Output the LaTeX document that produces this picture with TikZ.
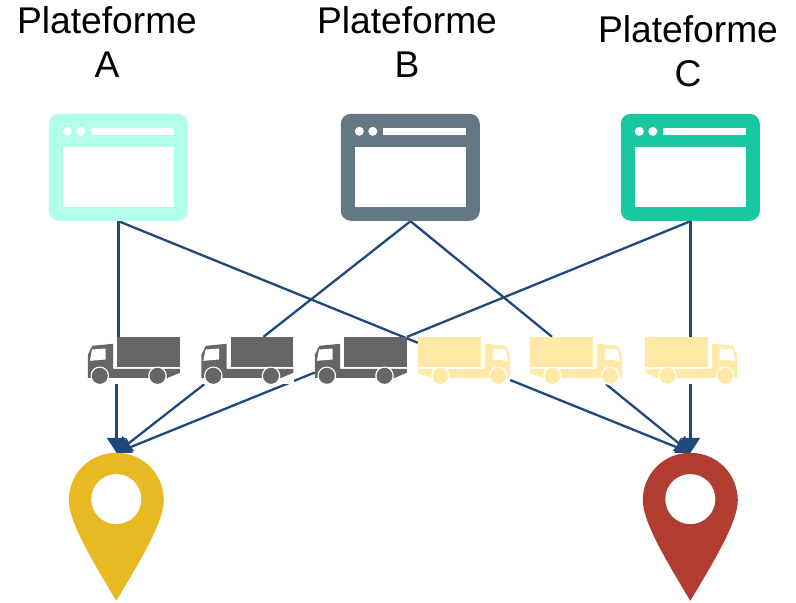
\documentclass[tikz,border=0pt]{standalone}
\usepackage{fontspec}
\setmainfont{Liberation Sans}
\usetikzlibrary{arrows.meta,backgrounds}

\definecolor{winlight}{HTML}{AFFFEB}
\definecolor{winslate}{HTML}{647782}
\definecolor{wingreen}{HTML}{1AC8A0}
\definecolor{truckgray}{HTML}{666666}
\definecolor{truckyellow}{HTML}{FFE9A6}
\definecolor{pinyellow}{HTML}{E8B923}
\definecolor{pinred}{HTML}{B03D30}
\definecolor{linkblue}{HTML}{1F497D}

\tikzset{
  platlabel/.style={font=\fontsize{37.2}{44.5}\selectfont, align=center, inner sep=0pt},
  winbox/.style={minimum width=139pt, minimum height=107pt, inner sep=0pt},
  truckbox/.style={fill=white, minimum width=92pt, minimum height=47pt, inner sep=0pt},
  pinbox/.style={fill=white, minimum width=95pt, minimum height=148pt, inner sep=0pt},
  link/.style={linkblue, line width=2.3pt},
  linkhead/.style={link, -{Triangle[length=15pt,width=19pt]}},
  pics/browser/.style={code={
    \fill[#1, rounded corners=10pt] (0,0) rectangle (139,107);
    \fill[white] (14,33) rectangle (125,93);
    \fill[white] (42,14) rectangle (125,21);
    \fill[white] (18.5,17.5) circle[radius=4.5pt];
    \fill[white] (32,17.5) circle[radius=4.5pt];
  }},
  pics/truck/.style={code={
    \fill[#1] (29.3,0) rectangle (92,30); % cargo
    \fill[#1] (0,18) -- (4.5,9) -- (25.3,7) -- (25.3,32) -- (92,32) -- (92,36) -- (80,41) -- (0,41) -- cycle; % cab and chassis
    \fill[white] (4.3,12.7) -- (17.7,11.7) -- (17.7,22.7) -- (2,24) -- cycle; % cab window
    \fill[white] (12,39) circle[radius=9.3pt];
    \fill[white] (69.7,39) circle[radius=9.3pt];
    \fill[#1] (12,39) circle[radius=8pt];
    \fill[#1] (69.7,39) circle[radius=8pt];
  }},
  pics/mappin/.style={code={
    \fill[#1] (0,47.5) .. controls (0,21) and (21,0) .. (47.5,0)
      .. controls (74,0) and (95,21) .. (95,47.5)
      .. controls (95,70) and (69,112) .. (47.5,148)
      .. controls (26,112) and (0,70) .. (0,47.5) -- cycle;
    \fill[white] (47.5,46.3) circle[radius=25pt];
  }}
}

\begin{document}
\begin{tikzpicture}[x=1pt,y=-1pt]
\useasboundingbox (0,0) rectangle (796,603);

% Platform labels
\node[platlabel] (labelA) at (107,42) {Plateforme\\A};
\node[platlabel] (labelB) at (407,42) {Plateforme\\B};
\node[platlabel] (labelC) at (688,51) {Plateforme\\C};

% Platform windows
\node[winbox] (winA) at (118.5,167.5) {};
\node[winbox] (winB) at (410.5,167.5) {};
\node[winbox] (winC) at (690.5,167.5) {};
\pic at (winA.north west) {browser=winlight};
\pic at (winB.north west) {browser=winslate};
\pic at (winC.north west) {browser=wingreen};

% Trucks
\node[truckbox] (truck1) at (134,360.5) {};
\node[truckbox] (truck2) at (247.5,360.5) {};
\node[truckbox] (truck3) at (361,360.5) {};
\node[truckbox] (truck4) at (464,360.5) {};
\node[truckbox] (truck5) at (576,360.5) {};
\node[truckbox] (truck6) at (691,360.5) {};
\pic at (truck1.north west) {truck=truckgray};
\pic at (truck2.north west) {truck=truckgray};
\pic at (truck3.north west) {truck=truckgray};
\pic[xscale=-1] at (truck4.north east) {truck=truckyellow};
\pic[xscale=-1] at (truck5.north east) {truck=truckyellow};
\pic[xscale=-1] at (truck6.north east) {truck=truckyellow};

% Destination pins
\node[pinbox] (pinA) at (116.5,527) {};
\node[pinbox] (pinB) at (690.5,527) {};
\pic at (pinA.north west) {mappin=pinyellow};
\pic at (pinB.north west) {mappin=pinred};

\begin{pgfonlayer}{background}
% Platforms to trucks
\draw[link] (winA.south) -- (winA.south |- truck1.north);
\draw[link] (winA.south) -- ([yshift=-6pt]truck4.north west);
\draw[link] (winB.south) -- ([xshift=16pt]truck2.north);
\draw[link] (winB.south) -- ([xshift=-24pt]truck5.north);
\draw[link] (winC.south) -- (truck3.north east);
\draw[link] (winC.south) -- (winC.south |- truck6.north);

% Trucks to pins
\draw[linkhead] (pinA.north |- truck1.south) -- (pinA.north);
\draw[linkhead] ([xshift=3pt]truck2.south west) -- (pinA.north);
\draw[linkhead] ([yshift=-12pt]truck3.west) -- (pinA.north);
\draw[linkhead] ([yshift=-19.5pt]truck4.east) -- (pinB.north);
\draw[linkhead] ([xshift=30pt]truck5.south) -- (pinB.north);
\draw[linkhead] (pinB.north |- truck6.south) -- (pinB.north);
\end{pgfonlayer}

\end{tikzpicture}
\end{document}
